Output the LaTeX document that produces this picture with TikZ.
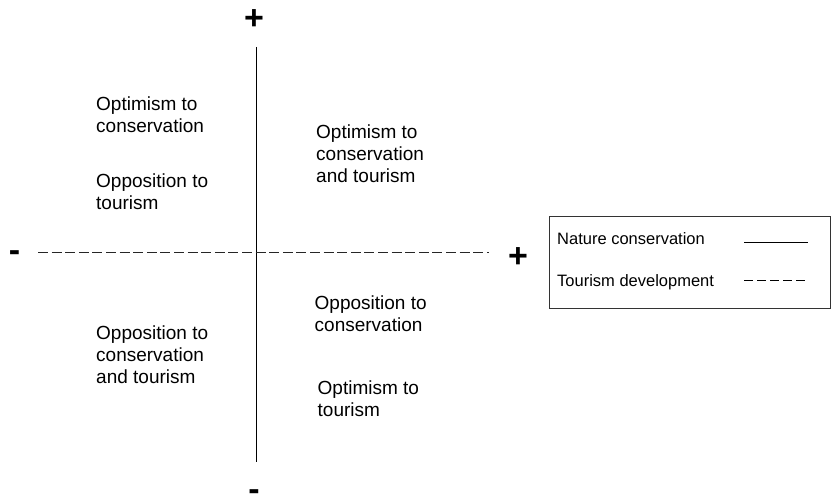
\documentclass[tikz,border=0pt]{standalone}
\usepackage{fontspec}
\setmainfont{Liberation Sans}
\usetikzlibrary{arrows,shapes}
\tikzstyle{quadtext}=[anchor=north west,align=left,inner sep=0pt,font=\fontsize{19}{21.7}\selectfont]
\tikzstyle{sign}=[inner sep=0pt,font=\fontsize{34}{34}\selectfont\bfseries]
\tikzstyle{keytext}=[anchor=base west,inner sep=0pt,font=\fontsize{16.5}{18}\selectfont]
\tikzstyle{axis} = [draw,line width=0.9pt,-]
\tikzstyle{devaxis} = [draw,line width=0.9pt,black!85,dash pattern=on 10pt off 3.6pt,-]

\begin{document}
\begin{tikzpicture}[x=1pt,y=-1pt]
    \useasboundingbox (0,0) rectangle (832,494);
    % First we draw the two axes
    \coordinate (top) at (256,47);
    \coordinate (bottom) at (256,462);
    \coordinate (left) at (38,252);
    \coordinate (right) at (489,252);
    \path[axis] (top) -- (bottom);
    \path[devaxis] (left) -- (right);

    % Signs at the ends of the axes
    \foreach \pos/\name/\sym in {{(254,20)/plustop/+}, {(254,495)/minusbottom/-}, {(14.5,256.5)/minusleft/-}, {(518,258)/plusright/+}}
        \node[sign] (\name) at \pos {\sym};

    % Texts of the four quadrants
    \foreach \pos/\name/\txt in {{(96,97)/ulone/{Optimism to\\conservation}}, {(96,173.5)/ultwo/{Opposition to\\tourism}}, {(316,125)/ur/{Optimism to\\conservation\\and tourism}}, {(96,326)/ll/{Opposition to\\conservation\\and tourism}}, {(314.5,295.5)/lrone/{Opposition to\\conservation}}, {(317.5,380.5)/lrtwo/{Optimism to\\tourism}}}
        \node[quadtext] (\name) at \pos {\txt};

    % Legend
    \coordinate (keytl) at (549,216);
    \coordinate (keybr) at (830,308);
    \draw[line width=0.9pt,black!80] (keytl) rectangle (keybr);
    \node[keytext] (keycons) at (557,245) {Nature conservation};
    \node[keytext] (keytour) at (557,286) {Tourism development};
    \coordinate (consa) at (744,242);
    \coordinate (consb) at (808,242);
    \coordinate (toura) at (744,280);
    \coordinate (tourb) at (807,280);
    \path[axis] (consa) -- (consb);
    \path[draw,line width=0.9pt,dash pattern=on 9pt off 4pt] (toura) -- (tourb);
\end{tikzpicture}
\end{document}
